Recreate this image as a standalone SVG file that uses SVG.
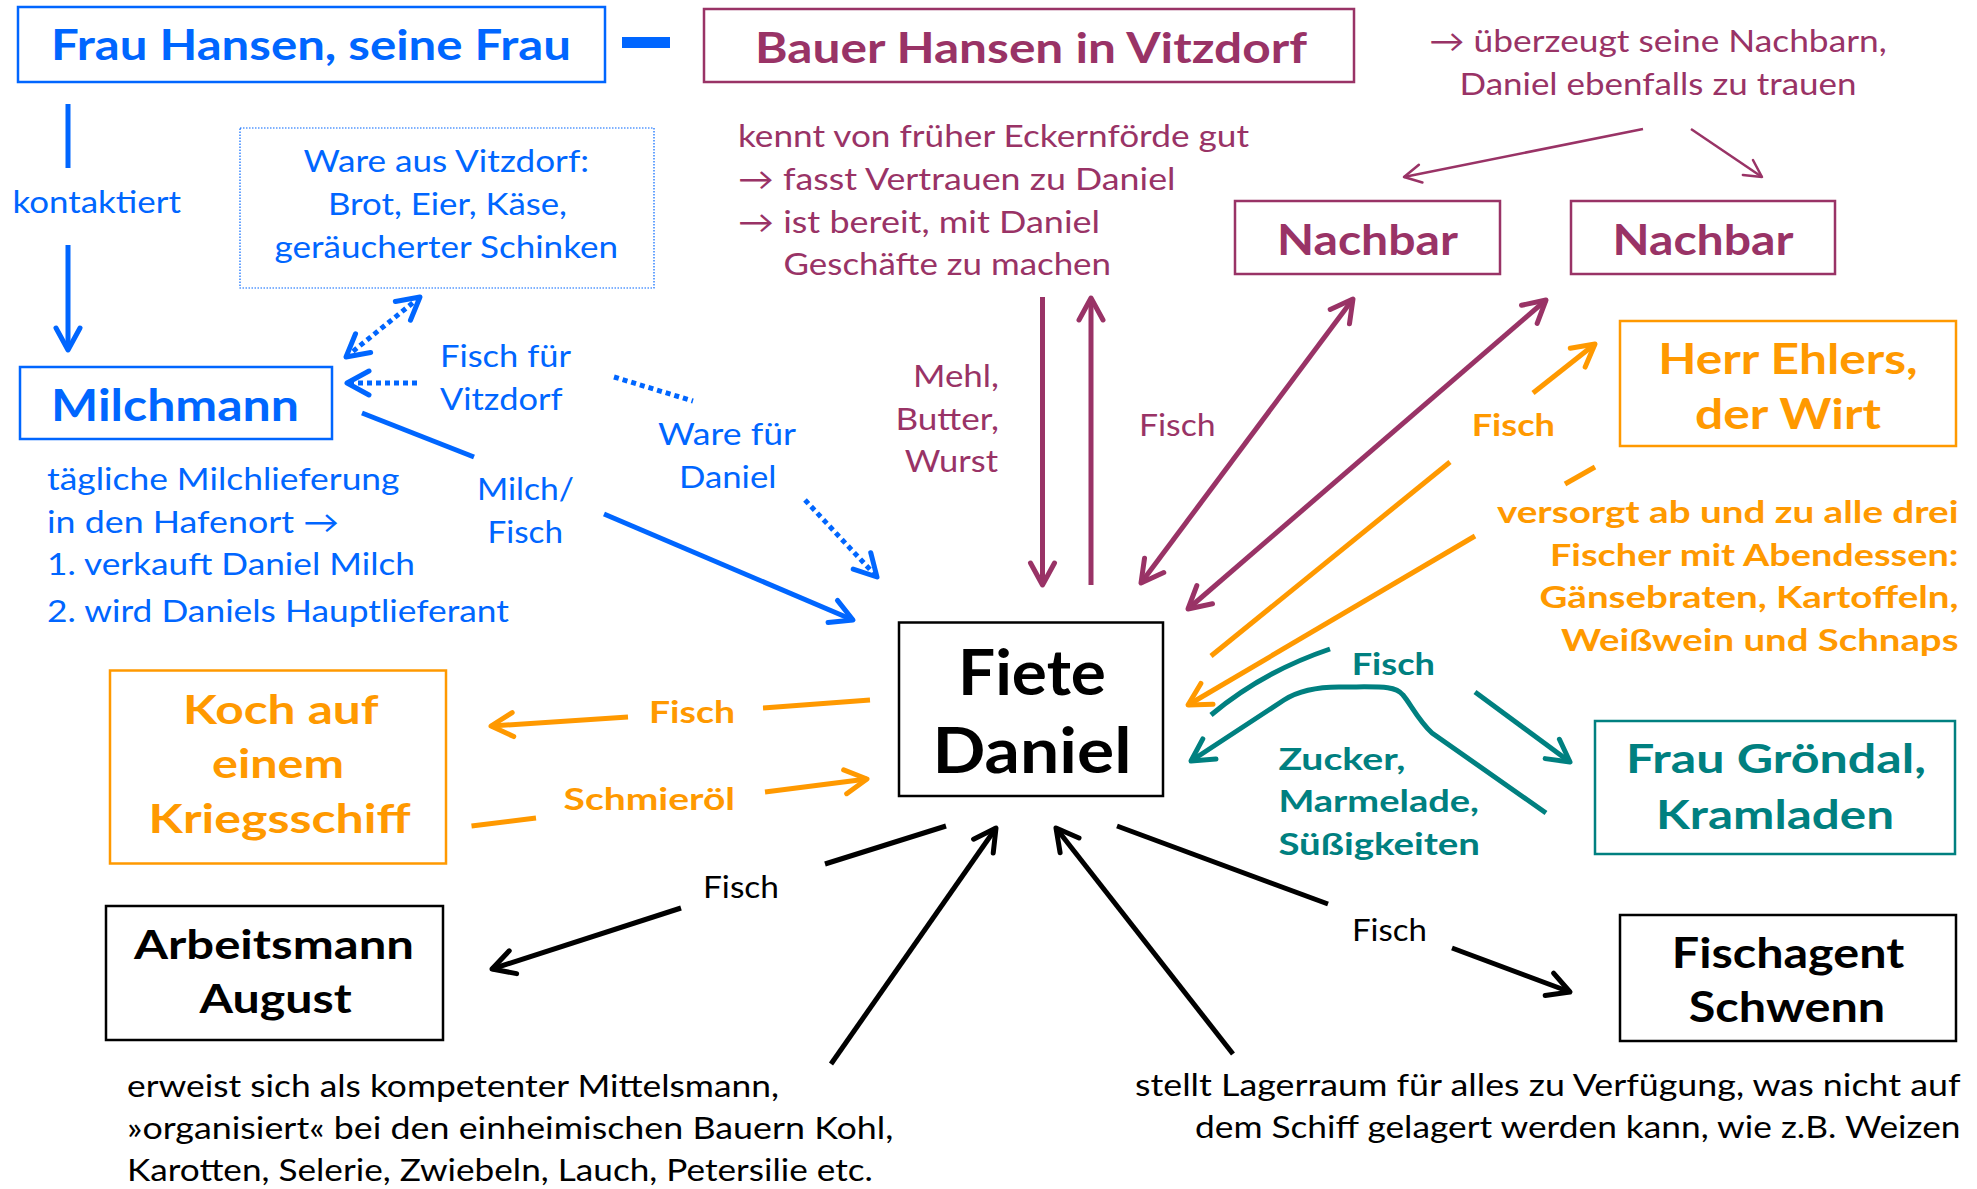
<svg xmlns="http://www.w3.org/2000/svg" width="1977" height="1189" viewBox="0 0 1977 1189">
<defs>
<style>
text{font-family:Lato,"Liberation Sans","DejaVu Sans",sans-serif;font-size:31px}
.b{font-weight:700}
.h{font-size:42px;font-weight:700}
.m{text-anchor:middle}
.e{text-anchor:end}
.cb{fill:#0066ff}.cp{fill:#993366}.co{fill:#ff9900}.ct{fill:#008080}.ck{fill:#000}
.box{fill:#fff;stroke-width:2.5}
.ln{fill:none;stroke-width:5;stroke-linejoin:round}
.thin{fill:none;stroke-width:2.5}
.dot{stroke-dasharray:5 4}
.sb{stroke:#0066ff}.sp{stroke:#993366}.so{stroke:#ff9900}.st{stroke:#008080}.sk{stroke:#000}
.hd{fill:none;stroke-width:5;stroke-linecap:round;stroke-linejoin:round}
</style>
<marker id="mb" markerUnits="userSpaceOnUse" markerWidth="60" markerHeight="60" refX="0" refY="0" orient="auto-start-reverse" overflow="visible"><path class="hd" d="M-22,-12 L0,0 L-22,12" stroke="#0066ff"/></marker>
<marker id="mp" markerUnits="userSpaceOnUse" markerWidth="60" markerHeight="60" refX="0" refY="0" orient="auto-start-reverse" overflow="visible"><path class="hd" d="M-22,-12 L0,0 L-22,12" stroke="#993366"/></marker>
<marker id="mp2" markerUnits="userSpaceOnUse" markerWidth="60" markerHeight="60" refX="0" refY="0" orient="auto-start-reverse" overflow="visible"><path d="M-17,-9 L0,0 L-17,9" fill="none" stroke="#993366" stroke-width="2.5" stroke-linecap="round" stroke-linejoin="round"/></marker>
<marker id="mo" markerUnits="userSpaceOnUse" markerWidth="60" markerHeight="60" refX="0" refY="0" orient="auto-start-reverse" overflow="visible"><path class="hd" d="M-22,-12 L0,0 L-22,12" stroke="#ff9900"/></marker>
<marker id="mt" markerUnits="userSpaceOnUse" markerWidth="60" markerHeight="60" refX="0" refY="0" orient="auto-start-reverse" overflow="visible"><path class="hd" d="M-22,-12 L0,0 L-22,12" stroke="#008080"/></marker>
<marker id="mk" markerUnits="userSpaceOnUse" markerWidth="60" markerHeight="60" refX="0" refY="0" orient="auto-start-reverse" overflow="visible"><path class="hd" d="M-22,-12 L0,0 L-22,12" stroke="#000"/></marker>
</defs>
<rect width="1977" height="1189" fill="#fff"/>

<g id="connectors">
  <!-- blue -->
  <rect x="622" y="37" width="48" height="11" fill="#0066ff"/>
  <line class="ln sb" x1="68" y1="104" x2="68" y2="168"/>
  <line class="ln sb" x1="68" y1="245" x2="68" y2="350" marker-end="url(#mb)"/>
  <line class="ln sb dot" x1="346" y1="357" x2="420" y2="297" marker-start="url(#mb)" marker-end="url(#mb)"/>
  <line class="ln sb dot" x1="417" y1="383" x2="347" y2="383" marker-end="url(#mb)"/>
  <line class="ln sb dot" x1="614" y1="377" x2="693" y2="401"/>
  <line class="ln sb dot" x1="805" y1="500" x2="877" y2="577" marker-end="url(#mb)"/>
  <line class="ln sb" x1="362" y1="413" x2="474" y2="457"/>
  <line class="ln sb" x1="604" y1="514" x2="853" y2="620" marker-end="url(#mb)"/>
  <!-- purple -->
  <line class="thin sp" x1="1643" y1="129" x2="1404" y2="177" marker-end="url(#mp2)"/>
  <line class="thin sp" x1="1691" y1="129" x2="1762" y2="177" marker-end="url(#mp2)"/>
  <line class="ln sp" x1="1042.5" y1="297" x2="1042.5" y2="585" marker-end="url(#mp)"/>
  <line class="ln sp" x1="1091" y1="585" x2="1091" y2="298" marker-end="url(#mp)"/>
  <line class="ln sp" x1="1141" y1="583" x2="1353" y2="299" marker-start="url(#mp)" marker-end="url(#mp)"/>
  <line class="ln sp" x1="1188" y1="609" x2="1546" y2="300" marker-start="url(#mp)" marker-end="url(#mp)"/>
  <!-- orange -->
  <line class="ln so" x1="1211" y1="656" x2="1450" y2="462"/>
  <line class="ln so" x1="1533" y1="393" x2="1595" y2="344" marker-end="url(#mo)"/>
  <line class="ln so" x1="1595" y1="467" x2="1565" y2="484"/>
  <line class="ln so" x1="1475" y1="536" x2="1188" y2="705" marker-end="url(#mo)"/>
  <line class="ln so" x1="870" y1="700" x2="763" y2="708"/>
  <line class="ln so" x1="628" y1="717" x2="491" y2="726" marker-end="url(#mo)"/>
  <line class="ln so" x1="471.5" y1="826" x2="536" y2="818"/>
  <line class="ln so" x1="765" y1="792" x2="867" y2="779" marker-end="url(#mo)"/>
  <!-- teal -->
  <path class="ln st" d="M1211,715 Q1262,672 1330,649"/>
  <line class="ln st" x1="1475" y1="692" x2="1570" y2="762" marker-end="url(#mt)"/>
  <path class="ln st" d="M1546,813 L1432,733 C1418,720 1410,703 1403,695 C1395,685 1380,687 1339,687 C1310,687 1295,693 1284,700 L1191,761" marker-end="url(#mt)"/>
  <!-- black -->
  <line class="ln sk" x1="946" y1="826" x2="825" y2="864"/>
  <line class="ln sk" x1="681" y1="908" x2="492" y2="969" marker-end="url(#mk)"/>
  <line class="ln sk" x1="831" y1="1064" x2="996" y2="828" marker-end="url(#mk)"/>
  <line class="ln sk" x1="1233" y1="1054" x2="1056" y2="828" marker-end="url(#mk)"/>
  <line class="ln sk" x1="1117" y1="826" x2="1328" y2="904"/>
  <line class="ln sk" x1="1452" y1="948" x2="1570" y2="992" marker-end="url(#mk)"/>
</g>

<g id="labels">
  <text class="cb" x="12.5" y="213" textLength="168.5" lengthAdjust="spacingAndGlyphs">kontaktiert</text>
  <text class="cb" x="440" y="367" textLength="131" lengthAdjust="spacingAndGlyphs">Fisch für</text>
  <text class="cb" x="440" y="410" textLength="122.5" lengthAdjust="spacingAndGlyphs">Vitzdorf</text>
  <text class="cb" x="477" y="500" textLength="97" lengthAdjust="spacingAndGlyphs">Milch/</text>
  <text class="cb" x="487.5" y="543" textLength="75.5" lengthAdjust="spacingAndGlyphs">Fisch</text>
  <text class="cb" x="658" y="445" textLength="138" lengthAdjust="spacingAndGlyphs">Ware für</text>
  <text class="cb" x="679" y="488" textLength="97.5" lengthAdjust="spacingAndGlyphs">Daniel</text>
  <text class="cp e" x="999" y="387" textLength="86" lengthAdjust="spacingAndGlyphs">Mehl,</text>
  <text class="cp e" x="999" y="430" textLength="103.6" lengthAdjust="spacingAndGlyphs">Butter,</text>
  <text class="cp e" x="998" y="472" textLength="93.3" lengthAdjust="spacingAndGlyphs">Wurst</text>
  <text class="cp" x="1139" y="436" textLength="76.7" lengthAdjust="spacingAndGlyphs">Fisch</text>
  <text class="co b" x="1471.7" y="436" textLength="83.3" lengthAdjust="spacingAndGlyphs">Fisch</text>
  <text class="co b" x="649" y="722.5" textLength="86" lengthAdjust="spacingAndGlyphs">Fisch</text>
  <text class="co b" x="563.6" y="810" textLength="171.4" lengthAdjust="spacingAndGlyphs">Schmieröl</text>
  <text class="ct b" x="1351.7" y="675" textLength="83.3" lengthAdjust="spacingAndGlyphs">Fisch</text>
  <text class="ct b" x="1278.4" y="770" textLength="127" lengthAdjust="spacingAndGlyphs">Zucker,</text>
  <text class="ct b" x="1278.4" y="812" textLength="200.6" lengthAdjust="spacingAndGlyphs">Marmelade,</text>
  <text class="ct b" x="1278.4" y="855" textLength="201.6" lengthAdjust="spacingAndGlyphs">Süßigkeiten</text>
  <text class="ck" x="703" y="898" textLength="76" lengthAdjust="spacingAndGlyphs">Fisch</text>
  <text class="ck" x="1352" y="941" textLength="75" lengthAdjust="spacingAndGlyphs">Fisch</text>
</g>

<g id="frau-hansen">
  <rect class="box sb" x="18" y="7" width="587" height="75"/>
  <text class="h cb m" x="311" y="60" textLength="520" lengthAdjust="spacingAndGlyphs">Frau Hansen, seine Frau</text>
</g>
<g id="bauer-hansen">
  <rect class="box sp" x="704" y="9" width="650" height="73"/>
  <text class="h cp m" x="1031" y="63" textLength="552" lengthAdjust="spacingAndGlyphs">Bauer Hansen in Vitzdorf</text>
</g>
<g id="bauer-note">
  <text class="cp" x="738" y="147" textLength="511" lengthAdjust="spacingAndGlyphs">kennt von früher Eckernförde gut</text>
  <text class="cp" x="738" y="190" textLength="437.5" lengthAdjust="spacingAndGlyphs">→ fasst Vertrauen zu Daniel</text>
  <text class="cp" x="738" y="233" textLength="362" lengthAdjust="spacingAndGlyphs">→ ist bereit, mit Daniel</text>
  <text class="cp" x="783.6" y="275" textLength="327.4" lengthAdjust="spacingAndGlyphs">Geschäfte zu machen</text>
</g>
<g id="nachbarn-note">
  <text class="cp m" x="1658" y="52" textLength="457.5" lengthAdjust="spacingAndGlyphs">→ überzeugt seine Nachbarn,</text>
  <text class="cp m" x="1658" y="95" textLength="397" lengthAdjust="spacingAndGlyphs">Daniel ebenfalls zu trauen</text>
</g>
<g id="nachbar-1">
  <rect class="box sp" x="1235" y="201" width="265" height="73"/>
  <text class="h cp m" x="1367.5" y="255" textLength="181" lengthAdjust="spacingAndGlyphs">Nachbar</text>
</g>
<g id="nachbar-2">
  <rect class="box sp" x="1571" y="201" width="264" height="73"/>
  <text class="h cp m" x="1703" y="255" textLength="181" lengthAdjust="spacingAndGlyphs">Nachbar</text>
</g>
<g id="ware-vitzdorf">
  <rect x="240" y="128" width="414" height="160" fill="none" stroke="#0066ff" stroke-width="1.2" stroke-dasharray="1.5 1.5"/>
  <text class="cb m" x="446.3" y="172" textLength="285.4" lengthAdjust="spacingAndGlyphs">Ware aus Vitzdorf:</text>
  <text class="cb m" x="447.5" y="215" textLength="239" lengthAdjust="spacingAndGlyphs">Brot, Eier, Käse,</text>
  <text class="cb m" x="446.3" y="258" textLength="343.5" lengthAdjust="spacingAndGlyphs">geräucherter Schinken</text>
</g>
<g id="milchmann">
  <rect class="box sb" x="20" y="367" width="312" height="72"/>
  <text class="h cb m" x="175" y="421" style="font-size:44px" textLength="248" lengthAdjust="spacingAndGlyphs">Milchmann</text>
</g>
<g id="milchmann-note">
  <text class="cb" x="47" y="490" textLength="352.5" lengthAdjust="spacingAndGlyphs">tägliche Milchlieferung</text>
  <text class="cb" x="47" y="533" textLength="292" lengthAdjust="spacingAndGlyphs">in den Hafenort →</text>
  <text class="cb" x="47" y="575" textLength="368" lengthAdjust="spacingAndGlyphs">1. verkauft Daniel Milch</text>
  <text class="cb" x="47" y="622" textLength="462" lengthAdjust="spacingAndGlyphs">2. wird Daniels Hauptlieferant</text>
</g>
<g id="herr-ehlers">
  <rect class="box so" x="1620" y="321" width="336" height="125"/>
  <text class="h co m" x="1788" y="374" textLength="259.5" lengthAdjust="spacingAndGlyphs">Herr Ehlers,</text>
  <text class="h co m" x="1788" y="429" textLength="186" lengthAdjust="spacingAndGlyphs">der Wirt</text>
</g>
<g id="ehlers-note">
  <text class="co b e" x="1958.5" y="523" textLength="461.5" lengthAdjust="spacingAndGlyphs">versorgt ab und zu alle drei</text>
  <text class="co b e" x="1958.5" y="566" textLength="408.5" lengthAdjust="spacingAndGlyphs">Fischer mit Abendessen:</text>
  <text class="co b e" x="1958.5" y="608" textLength="419" lengthAdjust="spacingAndGlyphs">Gänsebraten, Kartoffeln,</text>
  <text class="co b e" x="1958.5" y="651" textLength="397.5" lengthAdjust="spacingAndGlyphs">Weißwein und Schnaps</text>
</g>
<g id="koch">
  <rect class="box so" x="110" y="670.5" width="336" height="193"/>
  <text class="h co m" x="280.8" y="724" style="font-size:41px" textLength="195.6" lengthAdjust="spacingAndGlyphs">Koch auf</text>
  <text class="h co m" x="278" y="778" style="font-size:41px" textLength="132" lengthAdjust="spacingAndGlyphs">einem</text>
  <text class="h co m" x="279.6" y="832.5" style="font-size:41px" textLength="262" lengthAdjust="spacingAndGlyphs">Kriegsschiff</text>
</g>
<g id="fiete-daniel">
  <rect class="box sk" x="899" y="622.5" width="264" height="173.5"/>
  <text class="h ck m" x="1032" y="695" style="font-size:63px" textLength="148" lengthAdjust="spacingAndGlyphs">Fiete</text>
  <text class="h ck m" x="1032" y="773" style="font-size:63px" textLength="199" lengthAdjust="spacingAndGlyphs">Daniel</text>
</g>
<g id="frau-groendal">
  <rect class="box st" x="1595" y="721" width="360" height="133"/>
  <text class="h ct m" x="1776" y="773" style="font-size:40px" textLength="300" lengthAdjust="spacingAndGlyphs">Frau Gröndal,</text>
  <text class="h ct m" x="1775" y="829" style="font-size:40px" textLength="238" lengthAdjust="spacingAndGlyphs">Kramladen</text>
</g>
<g id="arbeitsmann">
  <rect class="box sk" x="106" y="906" width="337" height="134"/>
  <text class="h ck m" x="274" y="959" style="font-size:40px" textLength="280" lengthAdjust="spacingAndGlyphs">Arbeitsmann</text>
  <text class="h ck m" x="275.6" y="1013" style="font-size:40px" textLength="152" lengthAdjust="spacingAndGlyphs">August</text>
</g>
<g id="fischagent">
  <rect class="box sk" x="1620" y="915" width="336" height="126"/>
  <text class="h ck m" x="1788" y="968" textLength="232.5" lengthAdjust="spacingAndGlyphs">Fischagent</text>
  <text class="h ck m" x="1787" y="1021.5" textLength="196.4" lengthAdjust="spacingAndGlyphs">Schwenn</text>
</g>
<g id="note-left">
  <text class="ck" x="127" y="1097" textLength="652" lengthAdjust="spacingAndGlyphs">erweist sich als kompetenter Mittelsmann,</text>
  <text class="ck" x="127" y="1139" textLength="766.4" lengthAdjust="spacingAndGlyphs">»organisiert« bei den einheimischen Bauern Kohl,</text>
  <text class="ck" x="127" y="1181" textLength="745.8" lengthAdjust="spacingAndGlyphs">Karotten, Selerie, Zwiebeln, Lauch, Petersilie etc.</text>
</g>
<g id="note-right">
  <text class="ck e" x="1960.5" y="1096" textLength="825.5" lengthAdjust="spacingAndGlyphs">stellt Lagerraum für alles zu Verfügung, was nicht auf</text>
  <text class="ck e" x="1960.5" y="1137.5" textLength="765.5" lengthAdjust="spacingAndGlyphs">dem Schiff gelagert werden kann, wie z.B. Weizen</text>
</g>
</svg>
